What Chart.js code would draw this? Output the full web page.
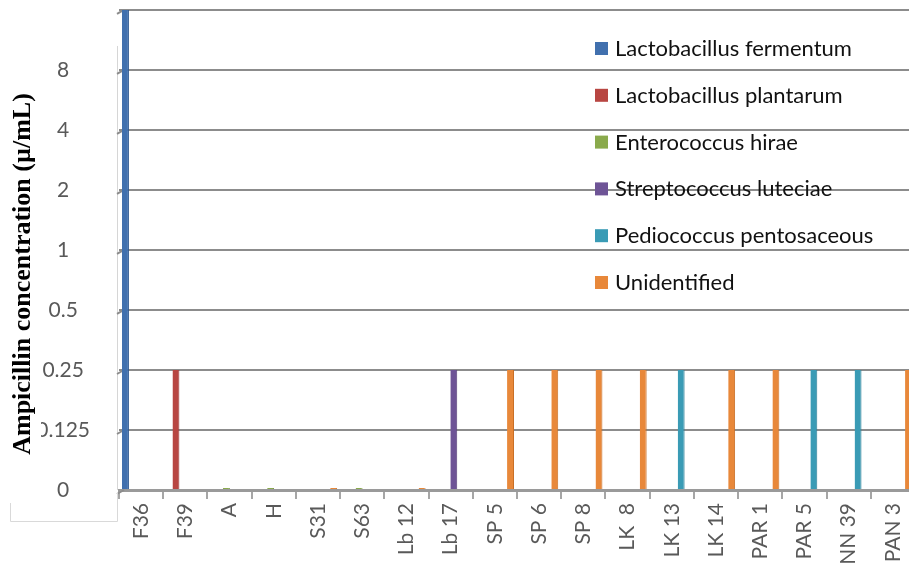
<!DOCTYPE html>
<html>
<head>
<meta charset="utf-8">
<script src="https://cdn.jsdelivr.net/npm/chart.js@4.4.1/dist/chart.umd.min.js"></script>
<style>
html, body { margin: 0; padding: 0; background: #fff; overflow: hidden; }
#wrap { position: absolute; left: 0; top: 0; width: 930px; height: 568px; }
</style>
</head>
<body>
<div id="wrap"><canvas id="micChart"></canvas></div>
<script>
// isolates on the x axis
const isolates = ['F36', 'F39', 'A', 'H', 'S31', 'S63', 'Lb 12', 'Lb 17', 'SP 5', 'SP 6', 'SP 8',
    'LK  8', 'LK 13', 'LK 14', 'PAR 1', 'PAR 5', 'NN 39', 'PAN 3'];
const species = ['Lactobacillus fermentum', 'Lactobacillus plantarum', 'Enterococcus hirae',
    'Streptococcus luteciae', 'Pediococcus pentosaceous', 'Unidentified'];
const speciesColors = ['#4170ae', '#b84642', '#8aaa4c', '#6e5496', '#3a9bb5', '#e8883a'];
const speciesEdges = ['#2f5a92', '#9a3532', '#6f8d39', '#56407a', '#2a7f96', '#c96f26'];
// which species each isolate belongs to (index into species)
const speciesOf = [0, 1, 2, 2, 5, 2, 5, 3, 5, 5, 5, 5, 4, 5, 5, 4, 4, 5];
// ampicillin MIC per isolate
const mic = [16, 0.25, 0, 0, 0, 0, 0, 0.25, 0.25, 0.25, 0.25, 0.25, 0.25, 0.25, 0.25, 0.25, 0.25, 0.25];
// the axis is evenly spaced by level
const yLevels = [0, 0.125, 0.25, 0.5, 1, 2, 4, 8, 16];
const yTickLabels = ['0', '0.125', '0.25', '0.5', '1', '2', '4', '8', ''];
const yTitle = 'Ampicillin concentration (\u00b5/mL)';

const datasets = species.map((name, s) => ({
    label: name,
    data: isolates.map((_, i) => speciesOf[i] === s ? yLevels.indexOf(mic[i]) : null),
    backgroundColor: speciesColors[s],
    borderColor: speciesEdges[s],
    borderWidth: { left: 0, right: 1, top: 0, bottom: 0 },
    borderSkipped: false,
    minBarLength: 2,
    categoryPercentage: 0.85,
    barPercentage: 1.1
}));

const decorPlugin = {
    id: 'decor',
    beforeDatasetsDraw(chart) {
        const { ctx, chartArea, scales: { y } } = chart;
        ctx.save();
        // back wall edge
        ctx.strokeStyle = '#d6d6d6';
        ctx.lineWidth = 1;
        ctx.beginPath();
        ctx.moveTo(chartArea.left - 1.5, y.getPixelForValue(7.4));
        ctx.lineTo(chartArea.left - 1.5, chartArea.bottom);
        ctx.stroke();
        // slanted grid ends (3D wall)
        ctx.strokeStyle = '#8c8c8c';
        ctx.lineWidth = 2;
        y.ticks.forEach(t => {
            const py = y.getPixelForValue(t.value);
            ctx.beginPath();
            ctx.moveTo(chartArea.left - 2, py + 4);
            ctx.lineTo(chartArea.left + 5, py);
            ctx.stroke();
        });
        ctx.restore();
    },
    afterDraw(chart) {
        const { ctx, chartArea } = chart;
        ctx.save();
        // title box covers left edge of the tick labels
        ctx.fillStyle = '#fff';
        ctx.fillRect(0, 0, 41, chartArea.bottom + 10);
        ctx.translate(23, 274);
        ctx.rotate(-Math.PI / 2);
        ctx.fillStyle = '#000';
        ctx.font = 'bold 26px "Liberation Serif"';
        ctx.textAlign = 'center';
        ctx.textBaseline = 'middle';
        ctx.fillText(yTitle, 0, 0);
        ctx.restore();

        // light frame at lower left
        ctx.save();
        ctx.strokeStyle = '#d9d9d9';
        ctx.lineWidth = 1;
        ctx.beginPath();
        ctx.moveTo(10.5, 503);
        ctx.lineTo(10.5, 521.5);
        ctx.lineTo(117.5, 521.5);
        ctx.lineTo(117.5, chartArea.bottom + 3);
        ctx.stroke();
        ctx.restore();

        // legend
        ctx.save();
        ctx.font = '22px Lato';
        ctx.textBaseline = 'middle';
        chart.data.datasets.forEach((ds, i) => {
            const cy = 48 + i * 46.8;
            ctx.fillStyle = ds.backgroundColor;
            ctx.fillRect(595, cy - 6, 13, 13);
            ctx.fillStyle = '#111';
            ctx.fillText(ds.label, 615, cy + 1);
        });
        ctx.restore();
    }
};

new Chart(document.getElementById('micChart'), {
    type: 'bar',
    data: { labels: isolates, datasets: datasets },
    options: {
        responsive: true,
        maintainAspectRatio: false,
        animation: false,
        layout: { padding: { top: 0, right: 15, left: 0, bottom: 0 } },
        plugins: {
            legend: { display: false },
            tooltip: { enabled: false }
        },
        scales: {
            x: {
                grid: {
                    offset: true,
                    drawOnChartArea: false,
                    tickLength: 9,
                    color: '#a6a6a6',
                    lineWidth: 2
                },
                border: { display: true, color: '#9a9a9a', width: 3 },
                ticks: {
                    autoSkip: false,
                    minRotation: 90,
                    maxRotation: 90,
                    padding: 4,
                    color: '#595959',
                    font: { family: 'Lato', size: 21 }
                },
                afterFit: s => { s.height = 78; }
            },
            y: {
                min: 0,
                max: 8,
                grid: { color: '#8c8c8c', lineWidth: 2, tickLength: 29, tickColor: 'rgba(0,0,0,0)' },
                border: { display: false },
                ticks: {
                    stepSize: 1,
                    crossAlign: 'center',
                    padding: 0,
                    color: '#595959',
                    font: { family: 'Lato', size: 21, lineHeight: 0.95 },
                    callback: v => yTickLabels[v]
                },
                afterFit: s => { s.width = 119; }
            }
        }
    },
    plugins: [decorPlugin]
});
</script>
</body>
</html>
